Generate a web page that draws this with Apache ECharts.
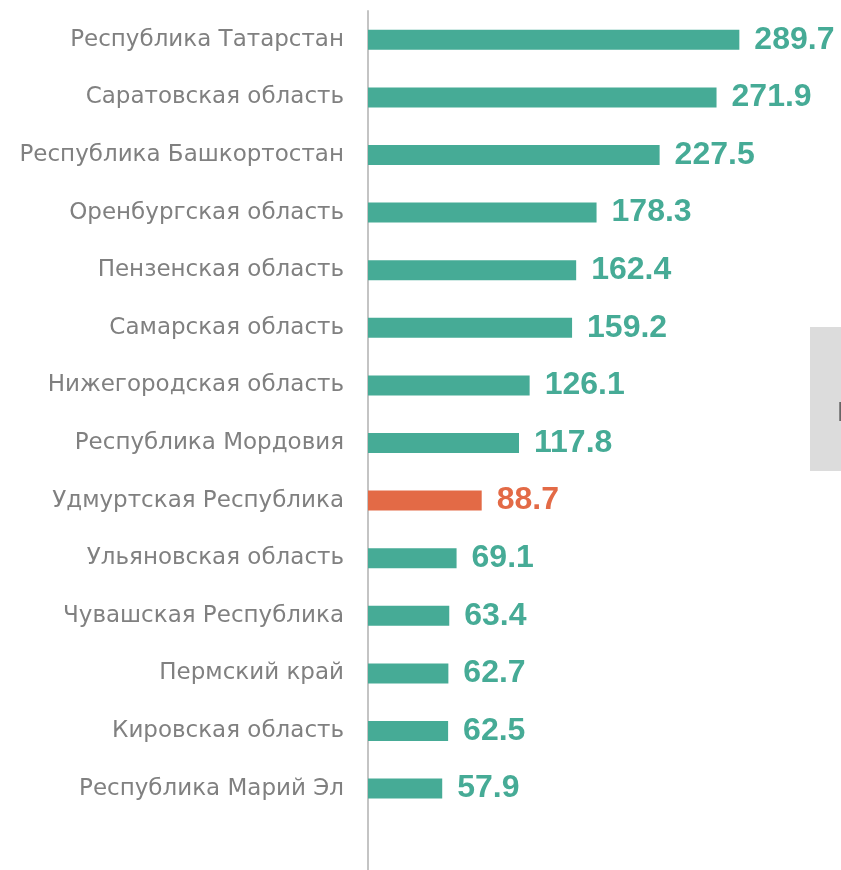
<!DOCTYPE html>
<html>
<head>
<meta charset="utf-8">
<script src="https://cdn.jsdelivr.net/npm/echarts@6/dist/echarts.min.js"></script>
<style>
  html, body { margin: 0; padding: 0; background: #fff; }
  #main { width: 841px; height: 870px; }
</style>
</head>
<body>
<div id="main"></div>
<script>
const regions = [
  'Республика Татарстан', 'Саратовская область', 'Республика Башкортостан',
  'Оренбургская область', 'Пензенская область', 'Самарская область',
  'Нижегородская область', 'Республика Мордовия', 'Удмуртская Республика',
  'Ульяновская область', 'Чувашская Республика', 'Пермский край',
  'Кировская область', 'Республика Марий Эл'
]
const values = [289.7, 271.9, 227.5, 178.3, 162.4, 159.2, 126.1, 117.8, 88.7, 69.1, 63.4, 62.7, 62.5, 57.9]
const highlight = 'Удмуртская Республика'

const teal = '#46AB96'
const red = '#E36A46'
const font = '"Liberation Sans", Arial, sans-serif'

const chart = echarts.init(document.getElementById('main'))
const option = {
  animation: false,
  grid: { left: 368, right: 0, top: 11, bottom: -5, containLabel: false, outerBoundsMode: 'none' },
  xAxis: { type: 'value', min: 0, max: 369, show: false },
  yAxis: {
    type: 'category',
    inverse: true,
    data: [...regions, ''],
    axisTick: { show: false },
    axisLine: { show: true, lineStyle: { color: '#c4c4c4', width: 2 } },
    axisLabel: { color: '#808080', fontSize: 23, fontFamily: '"DejaVu Sans", sans-serif', margin: 24 },
  },
  series: [{
    type: 'bar',
    barWidth: 20,
    data: values.map((v, i) => ({
      value: v,
      itemStyle: { color: regions[i] === highlight ? red : teal },
      label: { color: regions[i] === highlight ? red : teal },
    })),
    label: {
      show: true,
      position: 'right',
      distance: 15,
      fontSize: 32,
      fontWeight: 'bold',
      fontFamily: font,
      formatter: p => p.value.toFixed(1),
    },
  }],
  graphic: [
    { type: 'rect', shape: { x: 810, y: 327, width: 40, height: 144 }, style: { fill: '#dcdcdc' } },
    { type: 'text', x: 837, y: 399, style: { text: 'Б', fontSize: 28, fill: '#666', fontFamily: font } },
  ],
}
chart.setOption(option)
</script>
</body>
</html>
